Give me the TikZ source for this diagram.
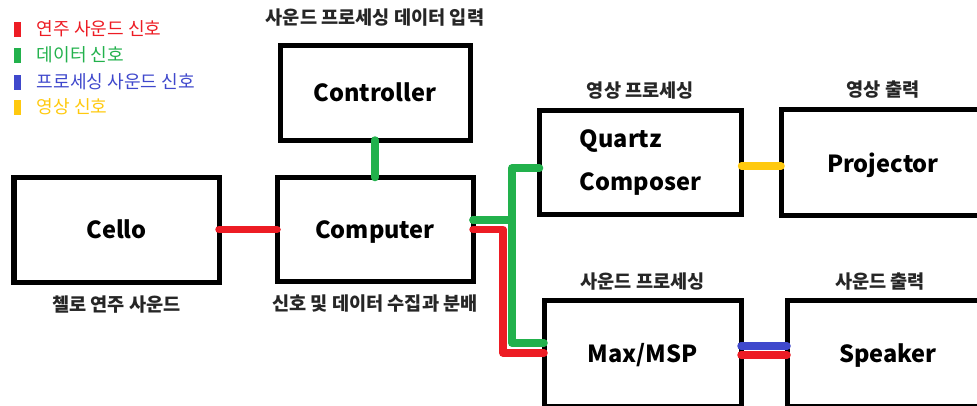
\documentclass[tikz,border=0pt]{standalone}
\usepackage{fontspec}
\setmainfont{Noto Sans CJK KR}
\usetikzlibrary{positioning}
\definecolor{playred}{HTML}{ED1C24}
\definecolor{datagreen}{HTML}{22B14C}
\definecolor{procblue}{HTML}{3F48CC}
\definecolor{videoyellow}{HTML}{FFC90E}

\begin{document}
\begin{tikzpicture}[
    every node/.style={inner sep=0pt},
    box/.style={rectangle, draw, line width=0.1cm, outer sep=0pt,
                minimum width=4cm, minimum height=2.1cm, align=center,
                text depth=0pt, font=\fontsize{13.4}{16}\selectfont\bfseries},
    captxt/.style={font=\fontsize{10.6}{12}\selectfont\bfseries, text=black!85},
    key/.style={rectangle, minimum width=0.14cm, minimum height=0.3cm},
    keytxt/.style={font=\fontsize{10.3}{12}\selectfont},
    sig/.style={line width=0.15cm, line cap=round, line join=round}
]
    \useasboundingbox (0,0) rectangle (19.54,-8.1);
    \clip (0,0) rectangle (19.54,-8.1);

    % legend
    \node[key, fill=playred]     (kplay)  at (0.35,-0.58) {};
    \node[keytxt, text=playred,     right=0.3cm of kplay]  (tplay)  {연주 사운드 신호};
    \node[key, fill=datagreen]   (kdata)  at (0.35,-1.10) {};
    \node[keytxt, text=datagreen,   right=0.3cm of kdata]  (tdata)  {데이터 신호};
    \node[key, fill=procblue]    (kproc)  at (0.35,-1.64) {};
    \node[keytxt, text=procblue,    right=0.3cm of kproc]  (tproc)  {프로세싱 사운드 신호};
    \node[key, fill=videoyellow] (kvideo) at (0.35,-2.14) {};
    \node[keytxt, text=videoyellow, right=0.3cm of kvideo] (tvideo) {영상 신호};

    % boxes
    \node[box, minimum width=4.1cm]                          (cello)      at (2.33,-4.59) {Cello};
    \node[box, minimum width=3.92cm, minimum height=2.08cm,
          right=1.16cm of cello]                             (computer)   {Computer};
    \node[box, minimum width=3.8cm, minimum height=1.9cm,
          above=0.75cm of computer]                          (controller) {Controller};
    \node[box, minimum width=4.04cm, minimum height=2.08cm, align=left, text depth=,
          font=\fontsize{13.4}{25}\selectfont\bfseries]      (quartz)     at (12.81,-3.25) {Quartz\\Composer};
    \node[box, minimum width=4.08cm, minimum height=2.12cm,
          right=0.79cm of quartz]                            (projector)  {Projector};
    \node[box, minimum width=3.94cm, minimum height=2.12cm]  (maxmsp)     at (12.85,-7.06) {Max/MSP};
    \node[box, minimum width=4.04cm, minimum height=2.12cm,
          right=0.92cm of maxmsp]                            (speaker)    {Speaker};

    % captions
    \node[captxt, above=0.37cm of controller]             (ccontroller) {사운드 프로세싱 데이터 입력};
    \node[captxt, below=0.26cm of cello]                  (ccello)      {첼로 연주 사운드};
    \node[captxt, below=0.26cm of computer]               (ccomputer)   {신호 및 데이터 수집과 분배};
    \node[captxt, above=0.21cm of quartz]                 (cquartz)     {영상 프로세싱};
    \node[captxt, above=0.21cm of projector]              (cprojector)  {영상 출력};
    \node[captxt, above=0.18cm of maxmsp]                 (cmaxmsp)     {사운드 프로세싱};
    \node[captxt, above=0.18cm of speaker, xshift=-0.16cm] (cspeaker)   {사운드 출력};

    % signals
    \draw[sig, playred]   (cello) -- (computer);
    \draw[sig, datagreen] (controller) -- (computer);
    \draw[sig, playred]   (computer.east) -- ++(0.6,0) |- (maxmsp.west);
    \draw[sig, datagreen] ([yshift=0.19cm]computer.east) -- ++(0.78,0) |- ([yshift=-0.11cm]quartz.west);
    \draw[sig, datagreen] ([yshift=0.19cm]computer.east) -- ++(0.78,0) |- ([yshift=0.2cm]maxmsp.west);
    \draw[sig, videoyellow] ([yshift=-0.07cm]quartz.east) -- ([yshift=-0.07cm]quartz.east -| projector.west);
    \draw[sig, procblue]  ([yshift=0.14cm]maxmsp.east) -- ([yshift=0.14cm]maxmsp.east -| speaker.west);
    \draw[sig, playred]   ([yshift=-0.04cm]maxmsp.east) -- ([yshift=-0.04cm]maxmsp.east -| speaker.west);
\end{tikzpicture}
\end{document}
